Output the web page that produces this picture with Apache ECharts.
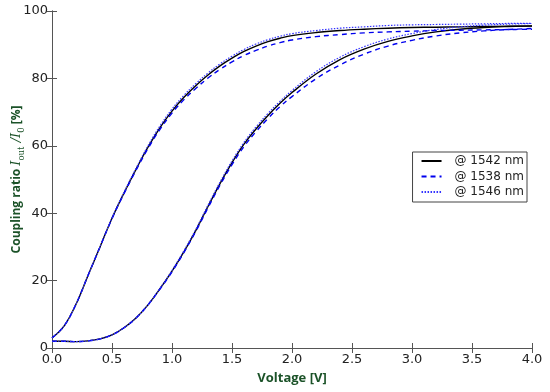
<!DOCTYPE html>
<html><head><meta charset="utf-8">
<script src="https://cdn.jsdelivr.net/npm/echarts@6/dist/echarts.min.js"></script>
<style>html,body{margin:0;padding:0;background:#fff}#c{width:550px;height:392px}</style>
</head><body><div id="c"></div>
<script>
const voltage = [0,0.1,0.2,0.3,0.4,0.5,0.6,0.7,0.8,0.9,1.0,1.1,1.2,1.3,1.4,1.5,1.6,1.7,1.8,1.9,2.0,2.2,2.4,2.6,2.8,3.0,3.2,3.4,3.6,3.8,4.0];
// left (fast) curve
const fast1542 = [3.0,6.5,13.0,21.5,30.0,38.5,46.0,53.0,59.6,65.4,70.3,74.4,77.9,81.0,83.7,86.0,88.0,89.6,90.9,91.9,92.7,93.6,94.2,94.6,94.9,95.1,95.2,95.3,95.4,95.5,95.5];
const fast1538 = [3.0,6.5,13.0,21.5,30.0,38.4,45.8,52.7,59.2,64.9,69.7,73.7,77.1,80.1,82.7,84.9,86.8,88.3,89.6,90.6,91.4,92.4,93.0,93.5,93.8,94.0,94.2,94.3,94.4,94.5,94.6];
const fast1546 = [3.0,6.5,13.0,21.5,30.0,38.6,46.2,53.3,60.0,65.9,70.9,75.0,78.5,81.6,84.3,86.6,88.6,90.2,91.5,92.5,93.3,94.2,94.9,95.3,95.7,95.9,96.0,96.1,96.2,96.3,96.3];
// right (slow) curve
const slow1542 = [2.0,2.0,1.9,2.1,2.7,3.9,6.0,8.9,12.8,17.6,22.8,28.6,35.0,42.0,48.8,55.0,60.5,65.0,69.0,72.6,75.8,81.3,85.6,88.7,91.0,92.6,93.8,94.6,95.1,95.4,95.6];
const slow1538 = [2.0,2.0,1.9,2.1,2.7,3.9,6.0,8.9,12.8,17.5,22.6,28.4,34.7,41.6,48.3,54.4,59.8,64.2,68.1,71.6,74.6,79.9,84.0,87.2,89.6,91.3,92.6,93.5,94.1,94.5,94.8];
const slow1546 = [2.0,2.0,1.9,2.1,2.7,3.9,6.0,8.9,12.8,17.7,23.0,28.9,35.3,42.4,49.2,55.5,61.0,65.6,69.6,73.2,76.4,82.0,86.3,89.4,91.7,93.3,94.5,95.3,95.8,96.1,96.3];
const xTicks = [0,0.5,1.0,1.5,2.0,2.5,3.0,3.5,4.0];
const yTicks = [0,20,40,60,80,100];
const names = ['@ 1542 nm','@ 1538 nm','@ 1546 nm'];

const pairs = arr => voltage.map((v,i)=>[v,arr[i]]);
const green = '#1b5228';
const axisCol = '#555';
const labelFont = {color:'#222', fontSize:13, fontFamily:'DejaVu Sans'};

function mk(name, arr, style){
  return {name, type:'line', data:pairs(arr), smooth:0.4, symbol:'none',
    lineStyle:style, itemStyle:{color:style.color}, z: style.z||2};
}
const solid = {color:'#000', width:1.4, type:'solid'};
const dashed = {color:'#0000ee', width:1.4, type:[5,4], z:3};
const dotted = {color:'#3333ff', width:1.2, type:[1.5,1.5], z:4};

const chart = echarts.init(document.getElementById('c'), null, {renderer:'canvas'});
chart.setOption({
  animation:false,
  grid:{left:52, right:18, top:11, bottom:44, containLabel:false, outerBoundsMode:'none'},
  legend:{data:names, orient:'vertical', right:23, top:152, padding:[3,3,4,8],
    backgroundColor:'#fff', borderColor:'#444', borderWidth:1, borderRadius:0,
    itemWidth:20, itemHeight:14, itemGap:3.5,
    itemStyle:{opacity:0},
    textStyle:{fontSize:12, color:'#222', fontFamily:'DejaVu Sans', padding:[0,0,0,8]}},
  xAxis:[{type:'value', min:0, max:4, interval:0.5,
    axisLine:{lineStyle:{color:axisCol, width:1}},
    axisTick:{inside:true, length:5, lineStyle:{color:axisCol}},
    axisLabel:Object.assign({formatter:v=>v.toFixed(1), margin:5}, labelFont),
    splitLine:{show:false},
    name:'Voltage [V]', nameLocation:'middle', nameGap:24, nameMoveOverlap:false,
    nameTextStyle:{color:green, fontWeight:'bold', fontSize:13, fontFamily:'Open Sans'}},
   {type:'value', position:'top', min:0, max:4, interval:0.5,
    axisLine:{lineStyle:{color:axisCol}}, axisTick:{inside:true, length:5, lineStyle:{color:axisCol}},
    axisLabel:{show:false}, splitLine:{show:false}}],
  yAxis:[{type:'value', min:0, max:100, interval:20,
    axisLine:{lineStyle:{color:axisCol, width:1}},
    axisTick:{inside:true, length:5, lineStyle:{color:axisCol}},
    axisLabel:Object.assign({margin:4}, labelFont),
    splitLine:{show:false},
    name:'{b|Coupling ratio }{i|I}{s|out}{i| /I}{s|0}{b| [%]}', nameLocation:'middle', nameGap:26, nameRotate:90,
    nameMoveOverlap:false,
    nameTextStyle:{rich:{
      b:{color:green, fontWeight:'bold', fontSize:12, fontFamily:'Open Sans', lineHeight:18, verticalAlign:'middle'},
      i:{color:green, fontStyle:'italic', fontSize:13, fontFamily:'DejaVu Serif', lineHeight:18, verticalAlign:'middle'},
      s:{color:green, fontSize:8.5, fontFamily:'DejaVu Serif', lineHeight:18, verticalAlign:'bottom'}}}},
   {type:'value', position:'right', min:0, max:100, interval:20,
    axisLine:{lineStyle:{color:axisCol}}, axisTick:{inside:true, length:5, lineStyle:{color:axisCol}},
    axisLabel:{show:false}, splitLine:{show:false}}],
  series:[
    mk(names[0], fast1542, solid), mk(names[0], slow1542, solid),
    mk(names[1], fast1538, dashed), mk(names[1], slow1538, dashed),
    mk(names[2], fast1546, dotted), mk(names[2], slow1546, dotted)
  ]
});
</script></body></html>
